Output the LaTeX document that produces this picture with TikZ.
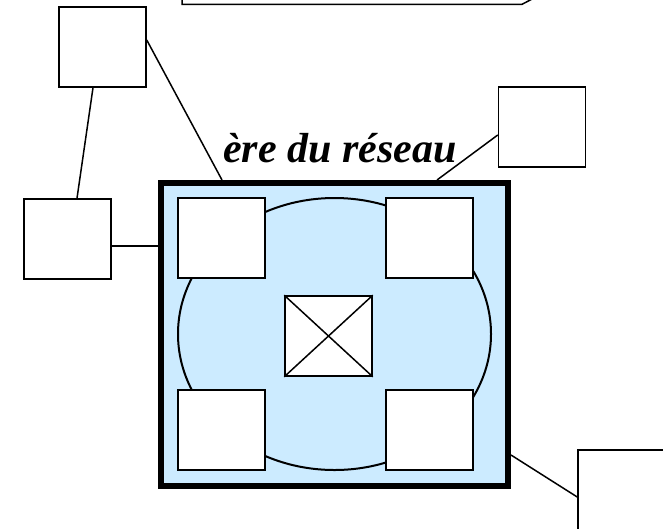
\documentclass[tikz,border=0pt]{standalone}
\usepackage{fontspec}
\setmainfont{Liberation Serif}
\usetikzlibrary{calc}
\definecolor{lanblue}{HTML}{CCEBFF}

\begin{document}
\begin{tikzpicture}[x=1pt, y=-1pt,
  station/.style={draw, fill=white, line width=1.5pt, minimum width=87pt, minimum height=80pt, inner sep=0},
  link/.style={draw, line width=1.5pt},
  lan/.style={draw, fill=lanblue, line width=6pt, minimum width=347pt, minimum height=303pt, inner sep=0}]
\useasboundingbox (0,0) rectangle (663,528);
\clip (0,0) rectangle (663,528);
% callout cut at the top
\draw[line width=1.5pt] (182,-3) -- (182,4.3) -- (522,4.3) -- (536,-3);
% network frame
\node[lan] (frame) at (334.5,334.5) {};
\draw[line width=2pt] (334.5,334) ellipse [x radius=156.5, y radius=136];
\node[station] (tl) at (221.5,238) {};
\node[station] (tr) at (429.5,238) {};
\node[station] (bl) at (221.5,430) {};
\node[station] (br) at (429.5,430) {};
\node[station] (hub) at (328.5,336) {};
\draw[line width=1.5pt] (hub.north west) -- (hub.south east) (hub.south west) -- (hub.north east);
% outside stations
\node[station] (top) at (102.5,47) {};
\node[station] (left) at (67.5,239) {};
\node[station] (right) at (542,127) {};
\node[station] (far) at (621.5,490) {};
\node[anchor=base, font=\fontsize{42}{50}\selectfont\bfseries\itshape] (title) at (340,162) {ère du réseau};
% links
\draw[link] ([xshift=-9.5pt]top.south) -- ([xshift=9.5pt]left.north);
\draw[link] ([yshift=7pt]top.east) -- ([xshift=-112.5pt]frame.north);
\draw[link] ([yshift=-8pt]right.west) -- ([xshift=102.5pt]frame.north);
\draw[link] ([yshift=-7pt]left.east) -- ([yshift=-7pt]left.east -| frame.west);
\draw[link] ([yshift=-120.5pt]frame.east) -- ([yshift=-7pt]far.west);
\end{tikzpicture}
\end{document}
